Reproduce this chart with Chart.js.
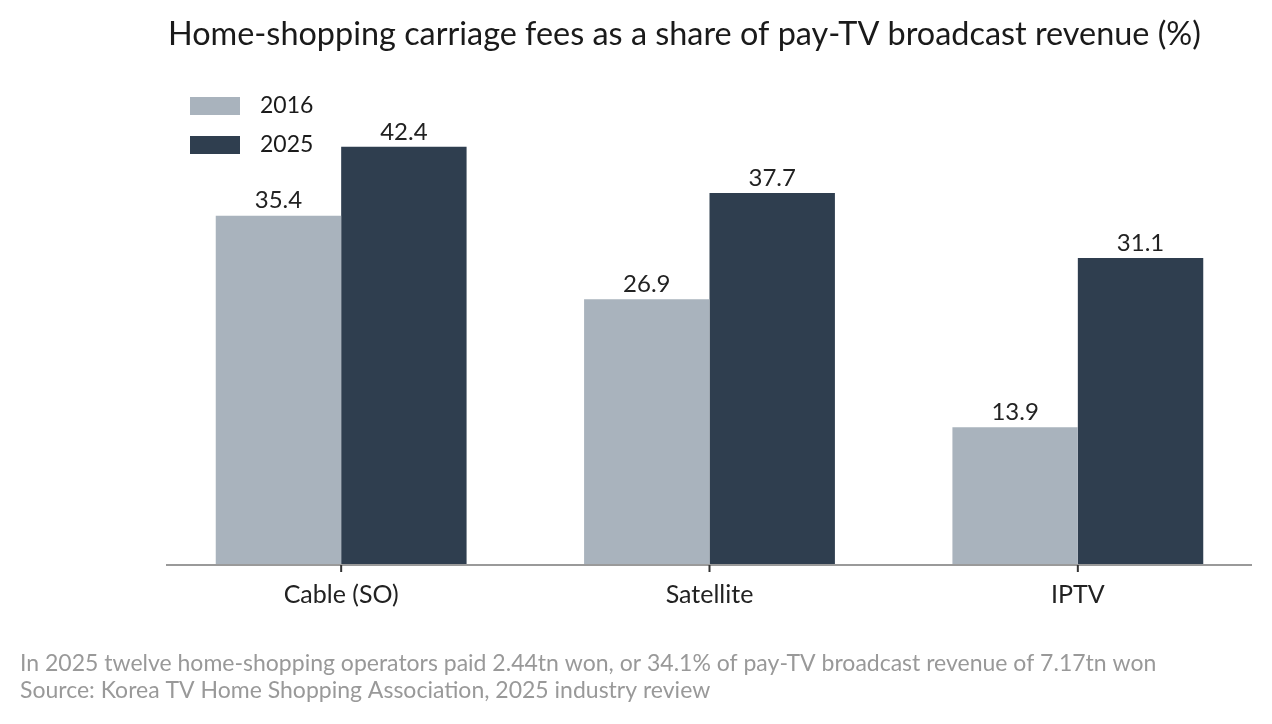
<!DOCTYPE html>
<html>
<head>
<meta charset="utf-8">
<script src="https://cdn.jsdelivr.net/npm/chart.js@4/dist/chart.umd.min.js"></script>
<style>
  html, body { margin: 0; padding: 0; background: #fff; }
  #wrap { width: 1272px; height: 724px; position: relative; }
</style>
</head>
<body>
<div id="wrap"><canvas id="fees-chart"></canvas></div>
<script>
const categories = ['Cable (SO)', 'Satellite', 'IPTV'];
const years = ['2016', '2025'];
const share2016 = [35.4, 26.9, 13.9];
const share2025 = [42.4, 37.7, 31.1];

const titleText = 'Home-shopping carriage fees as a share of pay-TV broadcast revenue (%)';
const noteLines = [
    'In 2025 twelve home-shopping operators paid 2.44tn won, or 34.1% of pay-TV broadcast revenue of 7.17tn won',
    'Source: Korea TV Home Shopping Association, 2025 industry review'
];

const FONT = 'Lato, "Noto Sans", sans-serif';
const colors = ['#a9b3bd', '#2f3e4f'];

// title, legend, value labels, footer and axis line drawn by hand
const extras = {
    id: 'extras',
    afterDatasetsDraw(chart) {
        const ctx = chart.ctx;
        const area = chart.chartArea;
        const x = chart.scales.x;
        ctx.save();

        // axis line
        ctx.strokeStyle = '#9a9a9a';
        ctx.lineWidth = 2;
        ctx.beginPath();
        ctx.moveTo(166, area.bottom + 1);
        ctx.lineTo(1252, area.bottom + 1);
        ctx.stroke();

        // ticks at category centres
        ctx.strokeStyle = '#333';
        ctx.lineWidth = 2;
        categories.forEach((c, i) => {
            const px = x.getPixelForValue(i);
            ctx.beginPath();
            ctx.moveTo(px, area.bottom + 1);
            ctx.lineTo(px, area.bottom + 8);
            ctx.stroke();
        });

        // value labels
        ctx.fillStyle = '#222';
        ctx.font = '24px ' + FONT;
        ctx.textAlign = 'center';
        ctx.textBaseline = 'bottom';
        chart.data.datasets.forEach((ds, di) => {
            chart.getDatasetMeta(di).data.forEach((bar, i) => {
                ctx.fillText(ds.data[i].toFixed(1), bar.x, bar.y - 3);
            });
        });

        // title
        ctx.fillStyle = '#1a1a1a';
        ctx.font = '32.4px ' + FONT;
        ctx.textAlign = 'left';
        ctx.textBaseline = 'middle';
        ctx.fillText(titleText, 168, 35);

        // legend
        ctx.font = '23px ' + FONT;
        chart.data.datasets.forEach((ds, di) => {
            const y = 105 + di * 39;
            ctx.fillStyle = ds.backgroundColor;
            ctx.fillRect(190, y - 8, 50, 18);
            ctx.fillStyle = '#1a1a1a';
            ctx.fillText(ds.label, 260, y + 1);
        });

        // footer
        ctx.fillStyle = '#999';
        ctx.font = '23px ' + FONT;
        ctx.fillText(noteLines[0], 20, 664);
        ctx.fillText(noteLines[1], 20, 691);

        ctx.restore();
    }
};

new Chart(document.querySelector('#fees-chart').getContext('2d'), {
    type: 'bar',
    data: {
        labels: categories,
        datasets: [
            { label: years[0], data: share2016, backgroundColor: colors[0] },
            { label: years[1], data: share2025, backgroundColor: colors[1] }
        ]
    },
    options: {
        responsive: true,
        maintainAspectRatio: false,
        animation: false,
        layout: { padding: { left: 157, right: 10, top: 72, bottom: 98 } },
        datasets: {
            bar: { barPercentage: 1, categoryPercentage: 0.681 }
        },
        scales: {
            x: {
                grid: { display: false, drawTicks: false },
                border: { display: false },
                ticks: { color: '#222', font: { family: FONT, size: 25 }, padding: 16 }
            },
            y: {
                display: false,
                min: 0,
                max: 50
            }
        },
        plugins: {
            legend: { display: false },
            tooltip: { enabled: false }
        }
    },
    plugins: [extras]
});
</script>
</body>
</html>
